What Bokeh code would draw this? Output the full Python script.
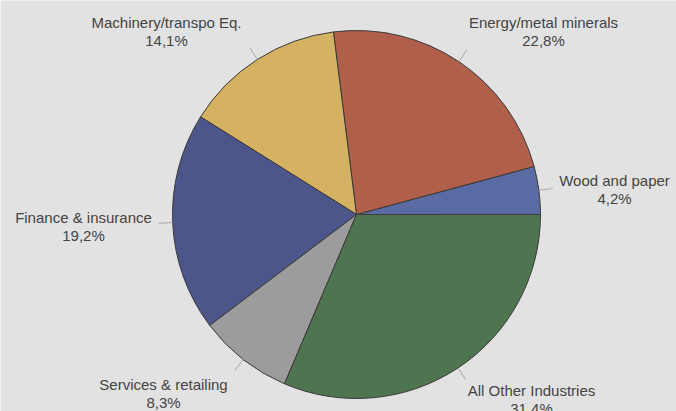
import numpy as np
from bokeh.plotting import figure
from bokeh.models import Range1d, ColumnDataSource
from bokeh.core.properties import value
from bokeh.embed import file_html
from bokeh.resources import INLINE

# ---- data ----
categories = ["Wood and paper", "Energy/metal minerals", "Machinery/transpo Eq.",
              "Finance & insurance", "Services & retailing", "All Other Industries"]
shares = [4.2, 22.8, 14.1, 19.2, 8.3, 31.4]
share_labels = ["4,2%", "22,8%", "14,1%", "19,2%", "8,3%", "31,4%"]

# ---- styles / layout (not data) ----
colors = ["#5a6aa2", "#b0604a", "#d4b262", "#4d568a", "#9c9c9c", "#4f7450"]
W, H = 676, 411
cx, cy, R = 356, H - 214, 184
# label anchor (pixel coords, top-left origin) for each slice
label_pos = [(614, 180), (543, 22), (166, 22), (83, 217), (163, 384), (531, 390)]
line_gap = 18

p = figure(width=W, height=H, output_backend="svg", toolbar_location=None,
           x_range=Range1d(0, W), y_range=Range1d(0, H), min_border=0)
p.axis.visible = False
p.grid.visible = False
p.outline_line_color = None
p.background_fill_color = "#e2e2e2"
p.border_fill_color = "#e2e2e2"

fr = np.array(shares) / sum(shares)
ends = np.cumsum(fr) * 2 * np.pi
starts = np.concatenate([[0], ends[:-1]])
src = ColumnDataSource(dict(start=starts, end=ends, color=colors))
p.wedge(x=cx, y=cy, radius=R, start_angle="start", end_angle="end",
        fill_color="color", line_color="#3a3a3a", line_width=1, source=src)

mids = (starts + ends) / 2
x0 = cx + R * np.cos(mids)
y0 = cy + R * np.sin(mids)
x1 = cx + (R + 14) * np.cos(mids)
y1 = cy + (R + 14) * np.sin(mids)
p.segment(x0=x0, y0=y0, x1=x1, y1=y1, line_color="#a8a8a8", line_width=1)

lx = [q[0] for q in label_pos]
ly1 = [H - q[1] for q in label_pos]
ly2 = [H - q[1] - line_gap for q in label_pos]
p.text(x=lx, y=ly1, text=categories, text_align="center", text_baseline="middle",
       text_font=value("Liberation Sans"), text_font_size="15px", text_color="#444444")
p.text(x=lx, y=ly2, text=share_labels, text_align="center", text_baseline="middle",
       text_font=value("Liberation Sans"), text_font_size="15px", text_color="#444444")

open("out.html", "w").write(file_html(p, INLINE))
